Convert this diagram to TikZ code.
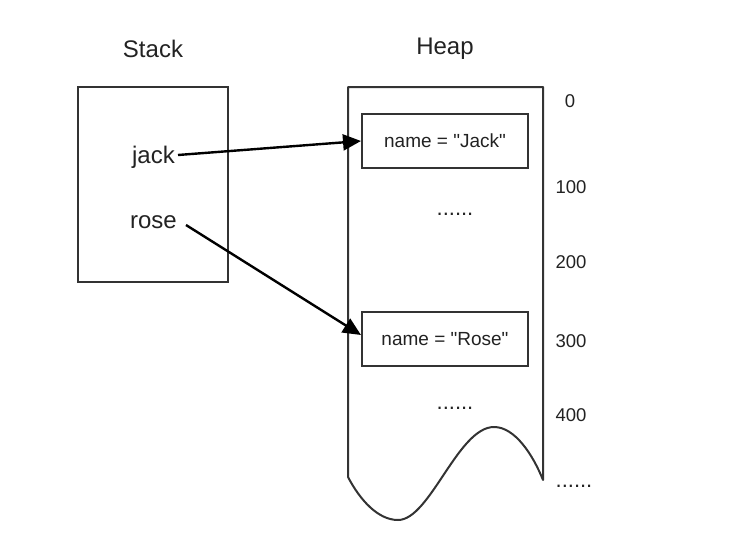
\documentclass[tikz,border=0pt]{standalone}
\usepackage{fontspec}
\newfontfamily\mainf{Liberation Sans}
\usetikzlibrary{arrows.meta}
\definecolor{ln}{HTML}{333333}
\definecolor{tx}{HTML}{222222}
\tikzset{
  lbl/.style={text=tx, inner sep=0pt, font=\mainf\fontsize{24}{28}\selectfont},
  var/.style={text=tx, inner sep=0pt, font=\mainf\fontsize{24}{28}\selectfont},
  num/.style={text=tx, inner sep=0pt, font=\mainf\fontsize{18.5}{22}\selectfont},
  dotsty/.style={text=tx, inner sep=0pt, font=\mainf\fontsize{22}{26}\selectfont},
  objbox/.style={draw=ln, line width=2pt, minimum width=166pt, minimum height=54pt, inner sep=0pt, text=tx, font=\mainf\fontsize{19}{22}\selectfont},
  outline/.style={draw=ln, line width=2pt},
  ptr/.style={draw=black, line width=2.4pt, -{Triangle[length=18pt,width=16pt]}}
}
\begin{document}
\begin{tikzpicture}[x=1pt,y=-1pt]
\useasboundingbox (0,0) rectangle (750,538);
% titles
\node[lbl] (stacklbl) at (153,49) {Stack};
\node[lbl] (heaplbl) at (445,49) {Heap};
% stack box
\draw[outline] (78,87) rectangle (228,282);
\node[var, anchor=east] (jack) at (175,157) {jack};
\node[var, anchor=east] (rose) at (177,222) {rose};
% heap
\draw[outline, line join=round] (348,477) -- (348,87) -- (543,87) -- (543,480)
  .. controls (533,455) and (515,427) .. (494,427)
  .. controls (458,427) and (430,520) .. (398,520)
  .. controls (378,520) and (360,500) .. (348,477);
\node[objbox] (jackbox) at (445,141) {name = "Jack"};
\node[objbox] (rosebox) at (445,339) {name = "Rose"};
\node[dotsty] (dots1) at (455,214) {......};
\node[dotsty] (dots2) at (455,408) {......};
% addresses
\node[num] (a0) at (570,101) {0};
\node[num] (a100) at (571,187) {100};
\node[num] (a200) at (571,262) {200};
\node[num] (a300) at (571,341) {300};
\node[num] (a400) at (571,415) {400};
\node[dotsty] (adots) at (574,486) {......};
% pointers
\draw[ptr] ([xshift=3pt,yshift=2pt]jack.east) -- (jackbox.west);
\draw[ptr] ([xshift=9pt,yshift=-3pt]rose.east) -- ([yshift=4pt]rosebox.west);
\end{tikzpicture}
\end{document}
